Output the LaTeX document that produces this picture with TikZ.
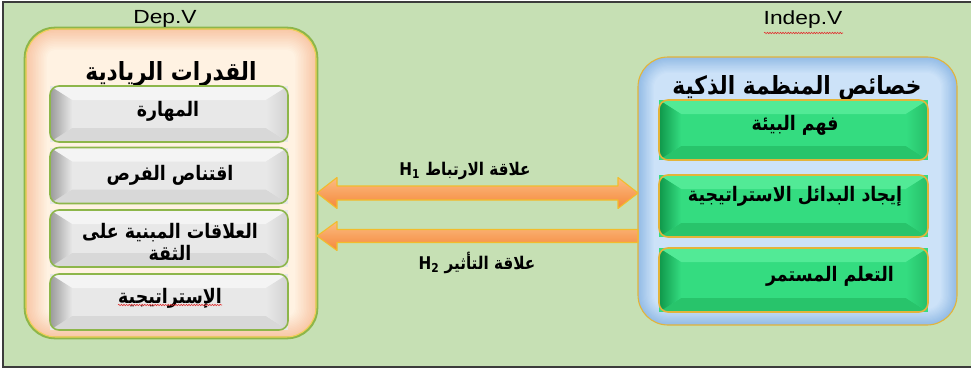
\documentclass[tikz,border=0pt]{standalone}
\usepackage{fontspec}
\setmainfont{Liberation Sans}[FakeStretch=1.2]
\newfontfamily\arabicfont[Script=Arabic,FakeStretch=0.87]{DejaVu Sans}
\TeXXeTstate=1
\usetikzlibrary{calc,decorations.pathmorphing}

\definecolor{bg}{HTML}{C6E0B4}
\definecolor{frameline}{HTML}{3C3C3C}
\definecolor{peachin}{HTML}{FFF2E2}
\definecolor{peachout}{HTML}{F8C5A4}
\definecolor{bluein}{HTML}{CCE2F8}
\definecolor{blueout}{HTML}{94BCE6}
\definecolor{olive}{HTML}{8DB64A}
\definecolor{gold}{HTML}{F2CF58}
\definecolor{goldline}{HTML}{E3B43A}
\definecolor{grface}{HTML}{E8E8E8}
\definecolor{grside}{HTML}{9A9A9A}
\definecolor{grrside}{HTML}{D2D2D2}
\definecolor{grtop}{HTML}{F4F4F4}
\definecolor{grbot}{HTML}{D8D8D8}
\definecolor{gface}{HTML}{34DC80}
\definecolor{gside}{HTML}{0F974A}
\definecolor{grsidegreen}{HTML}{26BE68}
\definecolor{gtop}{HTML}{52EA96}
\definecolor{gbot}{HTML}{28C46B}
\definecolor{arrtop}{HTML}{FBBB82}
\definecolor{arrbot}{HTML}{F5883A}
\definecolor{arredge}{HTML}{F2BC2C}
\definecolor{wavy}{HTML}{E03030}

\tikzset{
  boxshape/.style={inner sep=0pt, outer sep=0pt},
  title/.style={font=\arabicfont\bfseries\fontsize{25}{28}\selectfont, inner sep=0pt},
  item/.style={font=\arabicfont\bfseries\fontsize{20}{22}\selectfont, inner sep=0pt, align=center},
  rel/.style={font=\arabicfont\bfseries\fontsize{17.5}{20}\selectfont, inner sep=0pt},
  varname/.style={font=\fontsize{19}{22}\selectfont, inner sep=0pt},
  fatarrow/.style={top color=arrtop, bottom color=arrbot, draw=arredge, line width=1.1pt, line join=round},
  spell/.style={wavy, line width=0.6pt, decorate, decoration={snake, amplitude=0.7pt, segment length=2.6pt}}
}

% a panel whose edge colour fades inwards: name, corner radius, edge colour, centre colour, glow depth
\newcommand\glowpanel[5]{%
  \foreach \k in {0,...,14} {
    \pgfmathtruncatemacro\mix{100-\k*100/14}
    \pgfmathsetmacro\ins{\k*#5/14}
    \pgfmathsetmacro\rad{max(#2-\ins,4)}
    \fill[#3!\mix!#4, rounded corners=\rad pt] ([shift={(\ins,\ins)}]#1.north west) rectangle ([shift={(-\ins,-\ins)}]#1.south east);
  }}

% a bevelled button: name, centre, width, height, colour prefix, border style, right-bevel colour
\newcommand\bevelbox[7]{%
  \node[boxshape, minimum width=#3, minimum height=#4, fill=#5face] (#1) at #2 {};
  \begin{scope}
    \clip[rounded corners=9pt] (#1.north west) rectangle (#1.south east);
    \fill[#5top] (#1.north west) -- (#1.north east) -- ([shift={(-22,14)}]#1.north east) -- ([shift={(22,14)}]#1.north west) -- cycle;
    \fill[#5bot] (#1.south west) -- ([shift={(22,-14)}]#1.south west) -- ([shift={(-22,-14)}]#1.south east) -- (#1.south east) -- cycle;
    \shade[left color=#5side, right color=#5face] (#1.north west) -- ([shift={(22,14)}]#1.north west) -- ([shift={(22,-14)}]#1.south west) -- (#1.south west) -- cycle;
    \shade[left color=#5face, right color=#7] ([shift={(-22,14)}]#1.north east) -- (#1.north east) -- (#1.south east) -- ([shift={(-22,-14)}]#1.south east) -- cycle;
  \end{scope}
  \draw[#6, rounded corners=9pt] (#1.north west) rectangle (#1.south east);
}

\begin{document}
\begin{tikzpicture}[x=1pt, y=-1pt]
  \useasboundingbox (0,0) rectangle (971,369);
  \fill[white] (0,0) rectangle (971,369);
  % background sheet
  \fill[bg] (3,2) rectangle (971,367);
  \draw[frameline, line width=1.6pt] (972,2) -- (3,2) -- (3,367) -- (972,367);

  % dependent-variable panel
  \node[boxshape, minimum width=292, minimum height=310] (dep) at (171,183) {};
  \glowpanel{dep}{30}{peachout}{peachin}{22}
  \draw[olive, line width=2.6pt, rounded corners=30pt] (dep.north west) rectangle (dep.south east);
  \draw[gold, line width=1.1pt, rounded corners=30pt] ([shift={(1,1)}]dep.north west) rectangle ([shift={(-1,-1)}]dep.south east);
  \node[varname] (deplabel) at (165,19) {Dep.V};
  \node[title] (deptitle) at (171,74) {\beginR القدرات الريادية\endR};

  % independent-variable panel
  \node[boxshape, minimum width=319, minimum height=268] (indep) at (797.5,191) {};
  \glowpanel{indep}{30}{blueout}{bluein}{16}
  \draw[goldline, line width=1.1pt, rounded corners=30pt] (indep.north west) rectangle (indep.south east);
  \node[varname] (indeplabel) at (803,20) {Indep.V};
  \draw[spell] (764,33) -- (843,33);
  \node[title] (indeptitle) at (797,88) {\beginR خصائص المنظمة الذكية\endR};

  % dimensions of the dependent variable
  \bevelbox{d1}{(169,114)}{238}{56}{gr}{olive, line width=1.6pt}{grrside}
  \bevelbox{d2}{(169,175.5)}{238}{56}{gr}{olive, line width=1.6pt}{grrside}
  \bevelbox{d3}{(169,238.5)}{238}{57}{gr}{olive, line width=1.6pt}{grrside}
  \bevelbox{d4}{(169,302)}{238}{56}{gr}{olive, line width=1.6pt}{grrside}
  \node[item] (t1) at (168,111) {\beginR المهارة\endR};
  \node[item] (t2) at (170,175) {\beginR اقتناص الفرص\endR};
  \node[item] (t3) at (170,242) {\beginR العلاقات المبنية على\endR\\\beginR الثقة\endR};
  \node[item] (t4) at (170,298) {\beginR الإستراتيجية\endR};
  \draw[spell] (118,305) -- (222,305);

  % dimensions of the independent variable
  \bevelbox{i1}{(793.5,130)}{269}{60}{g}{goldline, line width=1.6pt}{grsidegreen}
  \bevelbox{i2}{(793.5,206)}{269}{62}{g}{goldline, line width=1.6pt}{grsidegreen}
  \bevelbox{i3}{(793.5,280)}{269}{64}{g}{goldline, line width=1.6pt}{grsidegreen}
  \node[item] (u1) at (795,125) {\beginR فهم البيئة\endR};
  \node[item] (u2) at (795,196) {\beginR إيجاد البدائل الاستراتيجية\endR};
  \node[item] (u3) at (830,276) {\beginR التعلم المستمر\endR};

  % H1: two-way correlation arrow
  \coordinate (h1l) at (dep.east |- 0,193);
  \coordinate (h1r) at (indep.west |- 0,193);
  \draw[fatarrow] (h1l) -- ($(h1l)+(20,-15.5)$) -- ($(h1l)+(20,-7)$) -- ($(h1r)+(-20,-7)$)
     -- ($(h1r)+(-20,-15.5)$) -- (h1r) -- ($(h1r)+(-20,15.5)$) -- ($(h1r)+(-20,7)$)
     -- ($(h1l)+(20,7)$) -- ($(h1l)+(20,15.5)$) -- cycle;
  \node[rel] (h1text) at (465,171) {\beginR علاقة الارتباط \beginL H\textsubscript{1}\endL\endR};

  % H2: one-way effect arrow
  \coordinate (h2l) at (dep.east |- 0,236);
  \coordinate (h2r) at (indep.west |- 0,236);
  \draw[fatarrow] (h2l) -- ($(h2l)+(20,-14.5)$) -- ($(h2l)+(20,-6.5)$) -- ($(h2r)+(0,-6.5)$)
     -- ($(h2r)+(0,6.5)$) -- ($(h2l)+(20,6.5)$) -- ($(h2l)+(20,14.5)$) -- cycle;
  \node[rel] (h2text) at (477,263) {\beginR علاقة التأثير \beginL H\textsubscript{2}\endL\endR};
\end{tikzpicture}
\end{document}
